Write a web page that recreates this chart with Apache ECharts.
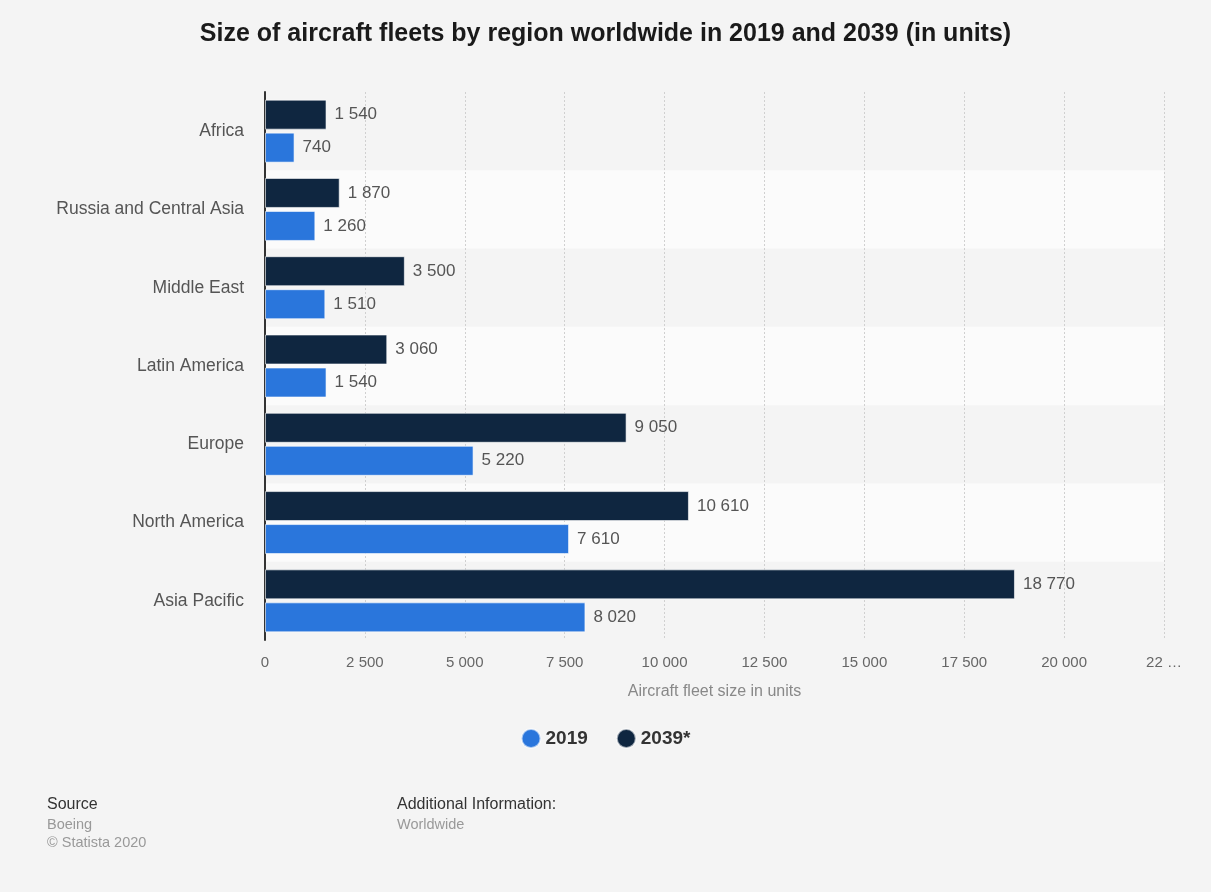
<!DOCTYPE html>
<html>
<head>
<meta charset="utf-8">
<script src="https://cdn.jsdelivr.net/npm/echarts@6/dist/echarts.min.js"></script>
<style>
  html, body { margin: 0; padding: 0; background: #f4f4f4; }
  #chart { width: 1211px; height: 892px; }
</style>
</head>
<body>
<div id="chart"></div>
<script>
// Regions, top to bottom
const regions = ['Africa', 'Russia and Central Asia', 'Middle East', 'Latin America', 'Europe', 'North America', 'Asia Pacific'];
// Fleet sizes (units)
const fleet2019 = [740, 1260, 1510, 1540, 5220, 7610, 8020];
const fleet2039 = [1540, 1870, 3500, 3060, 9050, 10610, 18770];
const seriesNames = ['2019', '2039*'];
const axisMax = 22500;
const axisStep = 2500;

function fmt(v) {
  return String(v).replace(/\B(?=(\d{3})+(?!\d))/g, ' ');
}

const chart = echarts.init(document.getElementById('chart'), null, { renderer: 'canvas' });
const font = '"Liberation Sans", Helvetica, Arial, sans-serif';

const barLabel = {
  show: true,
  position: 'right',
  distance: 8,
  color: '#555',
  fontSize: 17,
  fontFamily: font,
  formatter: p => fmt(p.value)
};

chart.setOption({
  backgroundColor: '#f4f4f4',
  animation: false,
  textStyle: { fontFamily: font },
  title: {
    text: 'Size of aircraft fleets by region worldwide in 2019 and 2039 (in units)',
    left: 'center',
    top: 17,
    textStyle: { fontSize: 25, fontWeight: 'bold', color: '#1a1a1a', fontFamily: font }
  },
  legend: {
    data: seriesNames,
    top: 723,
    left: 'center',
    icon: 'circle',
    itemWidth: 19,
    itemHeight: 19,
    itemGap: 28,
    textStyle: { fontSize: 19, fontWeight: 'bold', color: '#333', fontFamily: font }
  },
  grid: { left: 265, right: 47, top: 92, bottom: 252, containLabel: false },
  xAxis: {
    type: 'value',
    min: 0,
    max: axisMax,
    interval: axisStep,
    name: 'Aircraft fleet size in units',
    nameLocation: 'middle',
    nameGap: 44,
    nameTextStyle: { color: '#888', fontSize: 16, fontFamily: font },
    axisLine: { show: false },
    axisTick: { show: false },
    axisLabel: {
      color: '#666',
      fontSize: 15,
      margin: 15,
      fontFamily: font,
      formatter: v => (v === axisMax ? '22 …' : fmt(v))
    },
    splitLine: { show: true, lineStyle: { color: '#d0d0d0', type: [2, 2], width: 1 } }
  },
  yAxis: {
    type: 'category',
    data: regions,
    inverse: true,
    axisLine: { show: true, lineStyle: { color: '#333', width: 2 } },
    axisTick: { show: false },
    axisLabel: { color: '#555', fontSize: 17.5, margin: 21, fontFamily: font },
    splitArea: { show: true, areaStyle: { color: ['rgba(0,0,0,0)', '#fbfbfb'] } }
  },
  series: [
    {
      name: '2039*',
      type: 'bar',
      data: fleet2039,
      barWidth: 30,
      barGap: '10%',
      itemStyle: { color: '#0f2640', borderColor: 'rgba(255,255,255,0.6)', borderWidth: 1 },
      label: barLabel
    },
    {
      name: '2019',
      type: 'bar',
      data: fleet2019,
      barWidth: 30,
      barGap: '10%',
      itemStyle: { color: '#2a76dc', borderColor: 'rgba(255,255,255,0.6)', borderWidth: 1 },
      label: barLabel
    }
  ],
  color: ['#0f2640', '#2a76dc'],
  graphic: [
    { type: 'text', left: 47, top: 797, style: { text: 'Source', fill: '#333', font: '16px ' + font } },
    { type: 'text', left: 47, top: 817, style: { text: 'Boeing', fill: '#999', font: '14.5px ' + font } },
    { type: 'text', left: 47, top: 835, style: { text: '© Statista 2020', fill: '#999', font: '14.5px ' + font } },
    { type: 'text', left: 397, top: 797, style: { text: 'Additional Information:', fill: '#333', font: '16px ' + font } },
    { type: 'text', left: 397, top: 817, style: { text: 'Worldwide', fill: '#999', font: '14.5px ' + font } }
  ]
});
</script>
</body>
</html>
